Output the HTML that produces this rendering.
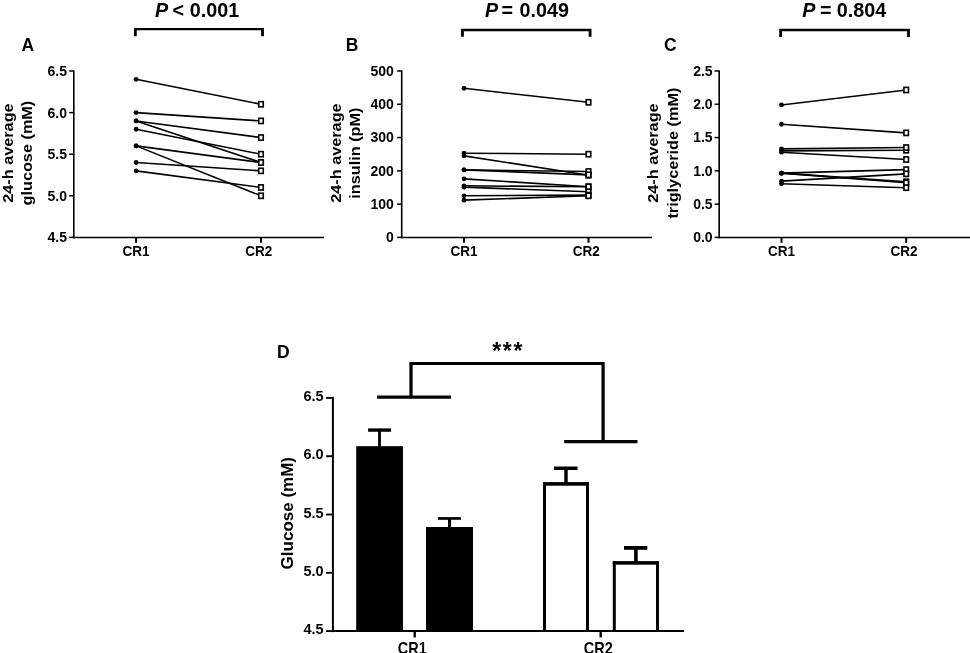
<!DOCTYPE html>
<html><head><meta charset="utf-8"><title>Figure</title>
<style>
html,body{margin:0;padding:0;background:#fff;}
body{width:970px;height:653px;overflow:hidden;}
svg{display:block;font-family:"Liberation Sans", Arial, Helvetica, sans-serif;-webkit-font-smoothing:antialiased;will-change:transform;}
</style></head>
<body>
<svg width="970" height="653" viewBox="0 0 970 653">
<rect width="970" height="653" fill="#fff"/>
<line x1="73.80" y1="70.40" x2="73.80" y2="238.20" stroke="#000" stroke-width="1.6" stroke-linecap="butt"/>
<line x1="73.00" y1="237.40" x2="324.00" y2="237.40" stroke="#000" stroke-width="1.5" stroke-linecap="butt"/>
<line x1="69.20" y1="237.40" x2="73.80" y2="237.40" stroke="#000" stroke-width="1.5" stroke-linecap="butt"/>
<text x="67.00" y="242.30" font-size="14" font-weight="bold" text-anchor="end">4.5</text>
<line x1="69.20" y1="195.80" x2="73.80" y2="195.80" stroke="#000" stroke-width="1.5" stroke-linecap="butt"/>
<text x="67.00" y="200.70" font-size="14" font-weight="bold" text-anchor="end">5.0</text>
<line x1="69.20" y1="154.20" x2="73.80" y2="154.20" stroke="#000" stroke-width="1.5" stroke-linecap="butt"/>
<text x="67.00" y="159.10" font-size="14" font-weight="bold" text-anchor="end">5.5</text>
<line x1="69.20" y1="112.60" x2="73.80" y2="112.60" stroke="#000" stroke-width="1.5" stroke-linecap="butt"/>
<text x="67.00" y="117.50" font-size="14" font-weight="bold" text-anchor="end">6.0</text>
<line x1="69.20" y1="71.00" x2="73.80" y2="71.00" stroke="#000" stroke-width="1.5" stroke-linecap="butt"/>
<text x="67.00" y="75.90" font-size="14" font-weight="bold" text-anchor="end">6.5</text>
<line x1="136.10" y1="237.40" x2="136.10" y2="242.80" stroke="#000" stroke-width="2.0" stroke-linecap="butt"/>
<text transform="translate(136.10,256.40) scale(1,1.06)" font-size="13.5" font-weight="bold" text-anchor="middle">CR1</text>
<line x1="261.00" y1="237.40" x2="261.00" y2="242.80" stroke="#000" stroke-width="2.0" stroke-linecap="butt"/>
<text transform="translate(258.80,256.40) scale(1,1.06)" font-size="13.5" font-weight="bold" text-anchor="middle">CR2</text>
<line x1="136.10" y1="79.32" x2="261.00" y2="104.28" stroke="#000" stroke-width="1.6" stroke-linecap="butt"/>
<line x1="136.10" y1="112.60" x2="261.00" y2="120.92" stroke="#000" stroke-width="1.6" stroke-linecap="butt"/>
<line x1="136.10" y1="120.92" x2="261.00" y2="137.56" stroke="#000" stroke-width="1.6" stroke-linecap="butt"/>
<line x1="136.10" y1="120.92" x2="261.00" y2="162.52" stroke="#000" stroke-width="1.6" stroke-linecap="butt"/>
<line x1="136.10" y1="129.24" x2="261.00" y2="154.20" stroke="#000" stroke-width="1.6" stroke-linecap="butt"/>
<line x1="136.10" y1="145.88" x2="261.00" y2="162.52" stroke="#000" stroke-width="1.6" stroke-linecap="butt"/>
<line x1="136.10" y1="145.88" x2="261.00" y2="195.80" stroke="#000" stroke-width="1.6" stroke-linecap="butt"/>
<line x1="136.10" y1="162.52" x2="261.00" y2="170.84" stroke="#000" stroke-width="1.6" stroke-linecap="butt"/>
<line x1="136.10" y1="170.84" x2="261.00" y2="187.48" stroke="#000" stroke-width="1.6" stroke-linecap="butt"/>
<circle cx="136.10" cy="79.32" r="2.4" fill="#000"/>
<circle cx="136.10" cy="112.60" r="2.4" fill="#000"/>
<circle cx="136.10" cy="120.92" r="2.4" fill="#000"/>
<circle cx="136.10" cy="120.92" r="2.4" fill="#000"/>
<circle cx="136.10" cy="129.24" r="2.4" fill="#000"/>
<circle cx="136.10" cy="145.88" r="2.4" fill="#000"/>
<circle cx="136.10" cy="145.88" r="2.4" fill="#000"/>
<circle cx="136.10" cy="162.52" r="2.4" fill="#000"/>
<circle cx="136.10" cy="170.84" r="2.4" fill="#000"/>
<rect x="258.75" y="101.68" width="4.5" height="5.2" fill="#fff" stroke="#000" stroke-width="1.6"/>
<rect x="258.75" y="118.32" width="4.5" height="5.2" fill="#fff" stroke="#000" stroke-width="1.6"/>
<rect x="258.75" y="134.96" width="4.5" height="5.2" fill="#fff" stroke="#000" stroke-width="1.6"/>
<rect x="258.75" y="159.92" width="4.5" height="5.2" fill="#fff" stroke="#000" stroke-width="1.6"/>
<rect x="258.75" y="151.60" width="4.5" height="5.2" fill="#fff" stroke="#000" stroke-width="1.6"/>
<rect x="258.75" y="159.92" width="4.5" height="5.2" fill="#fff" stroke="#000" stroke-width="1.6"/>
<rect x="258.75" y="193.20" width="4.5" height="5.2" fill="#fff" stroke="#000" stroke-width="1.6"/>
<rect x="258.75" y="168.24" width="4.5" height="5.2" fill="#fff" stroke="#000" stroke-width="1.6"/>
<rect x="258.75" y="184.88" width="4.5" height="5.2" fill="#fff" stroke="#000" stroke-width="1.6"/>
<text transform="translate(13.00,153.1) rotate(-90) scale(1.05,1)" font-size="15.5" font-weight="bold" text-anchor="middle">24-h average</text>
<text transform="translate(32.40,153.1) rotate(-90) scale(1.05,1)" font-size="15.5" font-weight="bold" text-anchor="middle">glucose (mM)</text>
<text x="21.50" y="51.20" font-size="17.5" font-weight="bold" text-anchor="start">A</text>
<path d="M133.95,27.90 H263.95 V36.20 H261.15 V30.30 H136.75 V36.20 H133.95 Z" fill="#000"/>
<text transform="translate(155.00,16.7) scale(1.04,1.06)" font-size="19" font-weight="bold" font-style="italic">P</text>
<text transform="translate(172.60,16.7) scale(1.04,1.06)" font-size="19" font-weight="bold">&lt;</text>
<text transform="translate(189.70,16.7) scale(1.04,1.06)" font-size="19" font-weight="bold">0.001</text>
<line x1="401.70" y1="70.40" x2="401.70" y2="238.20" stroke="#000" stroke-width="1.6" stroke-linecap="butt"/>
<line x1="400.90" y1="237.40" x2="652.00" y2="237.40" stroke="#000" stroke-width="1.5" stroke-linecap="butt"/>
<line x1="397.10" y1="237.40" x2="401.70" y2="237.40" stroke="#000" stroke-width="1.5" stroke-linecap="butt"/>
<text x="393.80" y="242.30" font-size="14" font-weight="bold" text-anchor="end">0</text>
<line x1="397.10" y1="204.12" x2="401.70" y2="204.12" stroke="#000" stroke-width="1.5" stroke-linecap="butt"/>
<text x="393.80" y="209.02" font-size="14" font-weight="bold" text-anchor="end">100</text>
<line x1="397.10" y1="170.84" x2="401.70" y2="170.84" stroke="#000" stroke-width="1.5" stroke-linecap="butt"/>
<text x="393.80" y="175.74" font-size="14" font-weight="bold" text-anchor="end">200</text>
<line x1="397.10" y1="137.56" x2="401.70" y2="137.56" stroke="#000" stroke-width="1.5" stroke-linecap="butt"/>
<text x="393.80" y="142.46" font-size="14" font-weight="bold" text-anchor="end">300</text>
<line x1="397.10" y1="104.28" x2="401.70" y2="104.28" stroke="#000" stroke-width="1.5" stroke-linecap="butt"/>
<text x="393.80" y="109.18" font-size="14" font-weight="bold" text-anchor="end">400</text>
<line x1="397.10" y1="71.00" x2="401.70" y2="71.00" stroke="#000" stroke-width="1.5" stroke-linecap="butt"/>
<text x="393.80" y="75.90" font-size="14" font-weight="bold" text-anchor="end">500</text>
<line x1="464.00" y1="237.40" x2="464.00" y2="242.80" stroke="#000" stroke-width="2.0" stroke-linecap="butt"/>
<text transform="translate(464.00,256.40) scale(1,1.06)" font-size="13.5" font-weight="bold" text-anchor="middle">CR1</text>
<line x1="588.50" y1="237.40" x2="588.50" y2="242.80" stroke="#000" stroke-width="2.0" stroke-linecap="butt"/>
<text transform="translate(586.30,256.40) scale(1,1.06)" font-size="13.5" font-weight="bold" text-anchor="middle">CR2</text>
<line x1="464.00" y1="88.31" x2="588.50" y2="102.28" stroke="#000" stroke-width="1.6" stroke-linecap="butt"/>
<line x1="464.00" y1="153.20" x2="588.50" y2="154.20" stroke="#000" stroke-width="1.6" stroke-linecap="butt"/>
<line x1="464.00" y1="155.86" x2="588.50" y2="175.17" stroke="#000" stroke-width="1.6" stroke-linecap="butt"/>
<line x1="464.00" y1="169.84" x2="588.50" y2="171.51" stroke="#000" stroke-width="1.6" stroke-linecap="butt"/>
<line x1="464.00" y1="169.84" x2="588.50" y2="174.83" stroke="#000" stroke-width="1.6" stroke-linecap="butt"/>
<line x1="464.00" y1="178.83" x2="588.50" y2="186.81" stroke="#000" stroke-width="1.6" stroke-linecap="butt"/>
<line x1="464.00" y1="185.82" x2="588.50" y2="186.81" stroke="#000" stroke-width="1.6" stroke-linecap="butt"/>
<line x1="464.00" y1="187.15" x2="588.50" y2="191.81" stroke="#000" stroke-width="1.6" stroke-linecap="butt"/>
<line x1="464.00" y1="195.80" x2="588.50" y2="195.13" stroke="#000" stroke-width="1.6" stroke-linecap="butt"/>
<line x1="464.00" y1="200.13" x2="588.50" y2="195.80" stroke="#000" stroke-width="1.6" stroke-linecap="butt"/>
<circle cx="464.00" cy="88.31" r="2.4" fill="#000"/>
<circle cx="464.00" cy="153.20" r="2.4" fill="#000"/>
<circle cx="464.00" cy="155.86" r="2.4" fill="#000"/>
<circle cx="464.00" cy="169.84" r="2.4" fill="#000"/>
<circle cx="464.00" cy="169.84" r="2.4" fill="#000"/>
<circle cx="464.00" cy="178.83" r="2.4" fill="#000"/>
<circle cx="464.00" cy="185.82" r="2.4" fill="#000"/>
<circle cx="464.00" cy="187.15" r="2.4" fill="#000"/>
<circle cx="464.00" cy="195.80" r="2.4" fill="#000"/>
<circle cx="464.00" cy="200.13" r="2.4" fill="#000"/>
<rect x="586.25" y="99.68" width="4.5" height="5.2" fill="#fff" stroke="#000" stroke-width="1.6"/>
<rect x="586.25" y="151.60" width="4.5" height="5.2" fill="#fff" stroke="#000" stroke-width="1.6"/>
<rect x="586.25" y="172.57" width="4.5" height="5.2" fill="#fff" stroke="#000" stroke-width="1.6"/>
<rect x="586.25" y="168.91" width="4.5" height="5.2" fill="#fff" stroke="#000" stroke-width="1.6"/>
<rect x="586.25" y="172.23" width="4.5" height="5.2" fill="#fff" stroke="#000" stroke-width="1.6"/>
<rect x="586.25" y="184.21" width="4.5" height="5.2" fill="#fff" stroke="#000" stroke-width="1.6"/>
<rect x="586.25" y="184.21" width="4.5" height="5.2" fill="#fff" stroke="#000" stroke-width="1.6"/>
<rect x="586.25" y="189.21" width="4.5" height="5.2" fill="#fff" stroke="#000" stroke-width="1.6"/>
<rect x="586.25" y="192.53" width="4.5" height="5.2" fill="#fff" stroke="#000" stroke-width="1.6"/>
<rect x="586.25" y="193.20" width="4.5" height="5.2" fill="#fff" stroke="#000" stroke-width="1.6"/>
<text transform="translate(340.90,153.1) rotate(-90) scale(1.05,1)" font-size="15.5" font-weight="bold" text-anchor="middle">24-h average</text>
<text transform="translate(360.30,153.1) rotate(-90) scale(1.05,1)" font-size="15.5" font-weight="bold" text-anchor="middle">insulin (pM)</text>
<text x="345.80" y="51.20" font-size="17.5" font-weight="bold" text-anchor="start">B</text>
<path d="M461.05,28.75 H591.50 V36.80 H588.70 V31.15 H463.85 V36.80 H461.05 Z" fill="#000"/>
<text transform="translate(485.00,17.3) scale(1.04,1.06)" font-size="19" font-weight="bold" font-style="italic">P</text>
<text transform="translate(501.60,17.3) scale(1.04,1.06)" font-size="19" font-weight="bold">=</text>
<text transform="translate(519.60,17.3) scale(1.04,1.06)" font-size="19" font-weight="bold">0.049</text>
<line x1="719.20" y1="70.40" x2="719.20" y2="238.20" stroke="#000" stroke-width="1.6" stroke-linecap="butt"/>
<line x1="718.40" y1="237.40" x2="975.00" y2="237.40" stroke="#000" stroke-width="1.5" stroke-linecap="butt"/>
<line x1="714.60" y1="237.40" x2="719.20" y2="237.40" stroke="#000" stroke-width="1.5" stroke-linecap="butt"/>
<text x="712.60" y="242.30" font-size="14" font-weight="bold" text-anchor="end">0.0</text>
<line x1="714.60" y1="204.12" x2="719.20" y2="204.12" stroke="#000" stroke-width="1.5" stroke-linecap="butt"/>
<text x="712.60" y="209.02" font-size="14" font-weight="bold" text-anchor="end">0.5</text>
<line x1="714.60" y1="170.84" x2="719.20" y2="170.84" stroke="#000" stroke-width="1.5" stroke-linecap="butt"/>
<text x="712.60" y="175.74" font-size="14" font-weight="bold" text-anchor="end">1.0</text>
<line x1="714.60" y1="137.56" x2="719.20" y2="137.56" stroke="#000" stroke-width="1.5" stroke-linecap="butt"/>
<text x="712.60" y="142.46" font-size="14" font-weight="bold" text-anchor="end">1.5</text>
<line x1="714.60" y1="104.28" x2="719.20" y2="104.28" stroke="#000" stroke-width="1.5" stroke-linecap="butt"/>
<text x="712.60" y="109.18" font-size="14" font-weight="bold" text-anchor="end">2.0</text>
<line x1="714.60" y1="71.00" x2="719.20" y2="71.00" stroke="#000" stroke-width="1.5" stroke-linecap="butt"/>
<text x="712.60" y="75.90" font-size="14" font-weight="bold" text-anchor="end">2.5</text>
<line x1="781.50" y1="237.40" x2="781.50" y2="242.80" stroke="#000" stroke-width="2.0" stroke-linecap="butt"/>
<text transform="translate(781.50,256.40) scale(1,1.06)" font-size="13.5" font-weight="bold" text-anchor="middle">CR1</text>
<line x1="906.20" y1="237.40" x2="906.20" y2="242.80" stroke="#000" stroke-width="2.0" stroke-linecap="butt"/>
<text transform="translate(904.00,256.40) scale(1,1.06)" font-size="13.5" font-weight="bold" text-anchor="middle">CR2</text>
<line x1="781.50" y1="104.95" x2="906.20" y2="89.97" stroke="#000" stroke-width="1.6" stroke-linecap="butt"/>
<line x1="781.50" y1="124.25" x2="906.20" y2="132.90" stroke="#000" stroke-width="1.6" stroke-linecap="butt"/>
<line x1="781.50" y1="150.87" x2="906.20" y2="150.21" stroke="#000" stroke-width="1.6" stroke-linecap="butt"/>
<line x1="781.50" y1="148.88" x2="906.20" y2="147.54" stroke="#000" stroke-width="1.6" stroke-linecap="butt"/>
<line x1="781.50" y1="152.20" x2="906.20" y2="159.52" stroke="#000" stroke-width="1.6" stroke-linecap="butt"/>
<line x1="781.50" y1="173.17" x2="906.20" y2="169.64" stroke="#000" stroke-width="1.6" stroke-linecap="butt"/>
<line x1="781.50" y1="173.17" x2="906.20" y2="181.76" stroke="#000" stroke-width="1.6" stroke-linecap="butt"/>
<line x1="781.50" y1="173.17" x2="906.20" y2="182.82" stroke="#000" stroke-width="1.6" stroke-linecap="butt"/>
<line x1="781.50" y1="181.16" x2="906.20" y2="173.84" stroke="#000" stroke-width="1.6" stroke-linecap="butt"/>
<line x1="781.50" y1="183.75" x2="906.20" y2="187.68" stroke="#000" stroke-width="1.6" stroke-linecap="butt"/>
<circle cx="781.50" cy="104.95" r="2.4" fill="#000"/>
<circle cx="781.50" cy="124.25" r="2.4" fill="#000"/>
<circle cx="781.50" cy="150.87" r="2.4" fill="#000"/>
<circle cx="781.50" cy="148.88" r="2.4" fill="#000"/>
<circle cx="781.50" cy="152.20" r="2.4" fill="#000"/>
<circle cx="781.50" cy="173.17" r="2.4" fill="#000"/>
<circle cx="781.50" cy="173.17" r="2.4" fill="#000"/>
<circle cx="781.50" cy="173.17" r="2.4" fill="#000"/>
<circle cx="781.50" cy="181.16" r="2.4" fill="#000"/>
<circle cx="781.50" cy="183.75" r="2.4" fill="#000"/>
<rect x="903.95" y="87.37" width="4.5" height="5.2" fill="#fff" stroke="#000" stroke-width="1.6"/>
<rect x="903.95" y="130.30" width="4.5" height="5.2" fill="#fff" stroke="#000" stroke-width="1.6"/>
<rect x="903.95" y="147.61" width="4.5" height="5.2" fill="#fff" stroke="#000" stroke-width="1.6"/>
<rect x="903.95" y="144.94" width="4.5" height="5.2" fill="#fff" stroke="#000" stroke-width="1.6"/>
<rect x="903.95" y="156.92" width="4.5" height="5.2" fill="#fff" stroke="#000" stroke-width="1.6"/>
<rect x="903.95" y="167.04" width="4.5" height="5.2" fill="#fff" stroke="#000" stroke-width="1.6"/>
<rect x="903.95" y="179.16" width="4.5" height="5.2" fill="#fff" stroke="#000" stroke-width="1.6"/>
<rect x="903.95" y="180.22" width="4.5" height="5.2" fill="#fff" stroke="#000" stroke-width="1.6"/>
<rect x="903.95" y="171.24" width="4.5" height="5.2" fill="#fff" stroke="#000" stroke-width="1.6"/>
<rect x="903.95" y="185.08" width="4.5" height="5.2" fill="#fff" stroke="#000" stroke-width="1.6"/>
<text transform="translate(658.40,153.1) rotate(-90) scale(1.05,1)" font-size="15.5" font-weight="bold" text-anchor="middle">24-h average</text>
<text transform="translate(677.80,153.1) rotate(-90) scale(1.05,1)" font-size="15.5" font-weight="bold" text-anchor="middle">triglyceride (mM)</text>
<text x="664.00" y="51.20" font-size="17.5" font-weight="bold" text-anchor="start">C</text>
<path d="M779.25,28.80 H909.90 V36.90 H907.10 V31.20 H782.05 V36.90 H779.25 Z" fill="#000"/>
<text transform="translate(802.30,16.8) scale(1.04,1.06)" font-size="19" font-weight="bold" font-style="italic">P</text>
<text transform="translate(820.00,16.8) scale(1.04,1.06)" font-size="19" font-weight="bold">=</text>
<text transform="translate(836.70,16.8) scale(1.04,1.06)" font-size="19" font-weight="bold">0.804</text>
<line x1="332.90" y1="396.90" x2="332.90" y2="632.10" stroke="#000" stroke-width="2.0" stroke-linecap="butt"/>
<line x1="331.90" y1="631.10" x2="684.00" y2="631.10" stroke="#000" stroke-width="2.0" stroke-linecap="butt"/>
<line x1="326.10" y1="631.10" x2="332.90" y2="631.10" stroke="#000" stroke-width="1.9" stroke-linecap="butt"/>
<text transform="translate(323.55,634.30) scale(1,1.03)" font-size="14.5" font-weight="bold" text-anchor="end">4.5</text>
<line x1="326.10" y1="572.80" x2="332.90" y2="572.80" stroke="#000" stroke-width="1.9" stroke-linecap="butt"/>
<text transform="translate(323.55,576.00) scale(1,1.03)" font-size="14.5" font-weight="bold" text-anchor="end">5.0</text>
<line x1="326.10" y1="514.50" x2="332.90" y2="514.50" stroke="#000" stroke-width="1.9" stroke-linecap="butt"/>
<text transform="translate(323.55,517.70) scale(1,1.03)" font-size="14.5" font-weight="bold" text-anchor="end">5.5</text>
<line x1="326.10" y1="456.20" x2="332.90" y2="456.20" stroke="#000" stroke-width="1.9" stroke-linecap="butt"/>
<text transform="translate(323.55,459.40) scale(1,1.03)" font-size="14.5" font-weight="bold" text-anchor="end">6.0</text>
<line x1="326.10" y1="397.90" x2="332.90" y2="397.90" stroke="#000" stroke-width="1.9" stroke-linecap="butt"/>
<text transform="translate(323.55,401.10) scale(1,1.03)" font-size="14.5" font-weight="bold" text-anchor="end">6.5</text>
<line x1="414.70" y1="631.10" x2="414.70" y2="637.40" stroke="#000" stroke-width="2.4" stroke-linecap="butt"/>
<text transform="translate(412.30,654.00) scale(1,1.1)" font-size="14.5" font-weight="bold" text-anchor="middle">CR1</text>
<line x1="600.70" y1="631.10" x2="600.70" y2="637.40" stroke="#000" stroke-width="2.4" stroke-linecap="butt"/>
<text transform="translate(598.30,654.00) scale(1,1.1)" font-size="14.5" font-weight="bold" text-anchor="middle">CR2</text>
<rect x="356.20" y="446.20" width="46.80" height="184.90" fill="#000"/>
<rect x="378.10" y="429.00" width="2.80" height="18.00" fill="#000"/>
<rect x="368.10" y="428.35" width="23.00" height="3.40" fill="#000"/>
<rect x="426.00" y="527.00" width="47.00" height="104.10" fill="#000"/>
<rect x="448.00" y="518.00" width="3.10" height="10.00" fill="#000"/>
<rect x="438.00" y="517.10" width="23.00" height="2.70" fill="#000"/>
<rect x="564.30" y="467.50" width="3.40" height="15.60" fill="#000"/>
<rect x="554.00" y="466.50" width="23.50" height="3.50" fill="#000"/>
<rect x="543.00" y="482.10" width="46.00" height="3.60" fill="#000"/>
<rect x="543.00" y="482.10" width="3.00" height="149.00" fill="#000"/>
<rect x="586.00" y="482.10" width="3.00" height="149.00" fill="#000"/>
<rect x="634.10" y="547.00" width="3.60" height="15.10" fill="#000"/>
<rect x="624.00" y="546.00" width="23.30" height="3.80" fill="#000"/>
<rect x="612.80" y="561.10" width="46.20" height="3.60" fill="#000"/>
<rect x="612.80" y="561.10" width="3.00" height="70.00" fill="#000"/>
<rect x="656.00" y="561.10" width="3.00" height="70.00" fill="#000"/>
<line x1="377.10" y1="397.20" x2="450.90" y2="397.20" stroke="#000" stroke-width="3.3" stroke-linecap="butt"/>
<path d="M411.0,397.2 V363.5 H603.1 V441.6" fill="none" stroke="#000" stroke-width="3.2"/>
<line x1="564.20" y1="441.60" x2="637.50" y2="441.60" stroke="#000" stroke-width="3.4" stroke-linecap="butt"/>
<text x="492.20" y="359.20" font-size="23" font-weight="bold" text-anchor="start" letter-spacing="1.7">***</text>
<text transform="translate(293.2,513.2) rotate(-90)" font-size="17" font-weight="bold" text-anchor="middle">Glucose (mM)</text>
<text x="277.00" y="358.00" font-size="17.5" font-weight="bold" text-anchor="start">D</text>
</svg>
</body></html>
